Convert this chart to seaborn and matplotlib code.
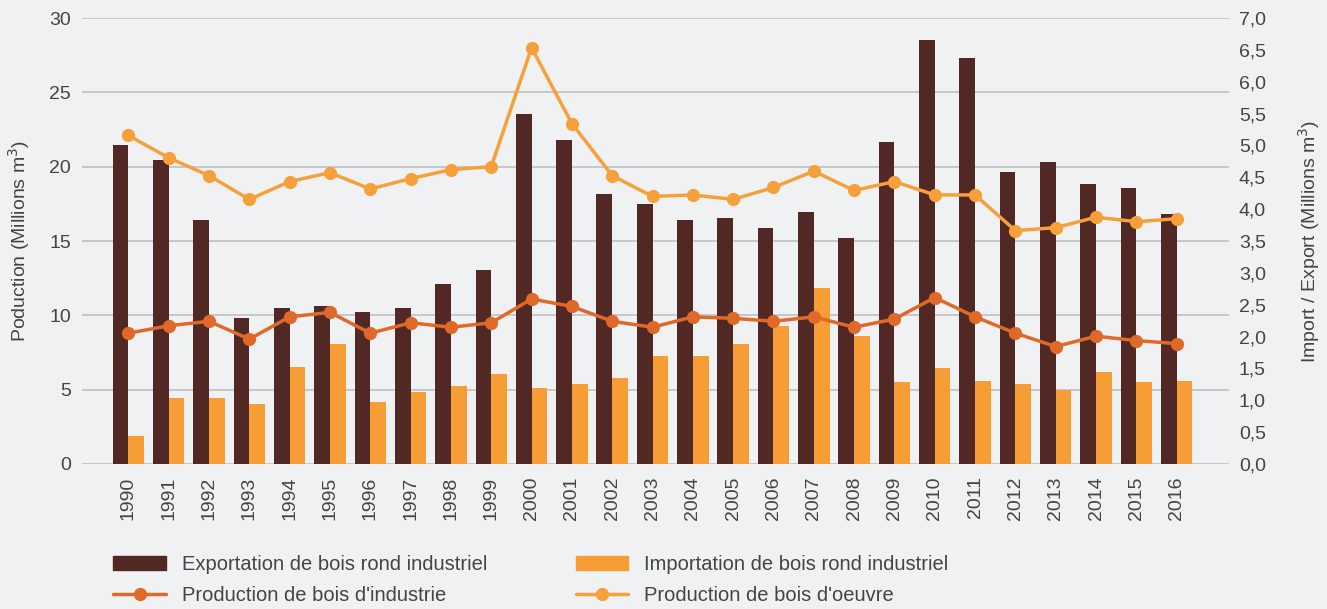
import numpy as np
import pandas as pd
import matplotlib.pyplot as plt
import seaborn as sns
from matplotlib.patches import Patch
from matplotlib.lines import Line2D

# -------------------------------
# Données
# -------------------------------
annees = [str(a) for a in range(1990, 2017)]

# Import / Export (Millions m3) - axe de droite
exportation = [5.01, 4.77, 3.83, 2.29, 2.45, 2.48, 2.39, 2.45, 2.83, 3.04,
               5.49, 5.08, 4.24, 4.08, 3.83, 3.86, 3.70, 3.95, 3.55, 5.05,
               6.65, 6.37, 4.58, 4.74, 4.39, 4.33, 3.92]
importation = [0.44, 1.03, 1.03, 0.94, 1.53, 1.88, 0.97, 1.13, 1.22, 1.41,
               1.19, 1.25, 1.35, 1.69, 1.69, 1.88, 2.16, 2.76, 2.01, 1.29,
               1.50, 1.31, 1.25, 1.16, 1.44, 1.29, 1.31]

# Production (Millions m3) - axe de gauche
bois_oeuvre = [22.1, 20.6, 19.4, 17.8, 19.0, 19.6, 18.5, 19.2, 19.8, 20.0,
               28.0, 22.9, 19.4, 18.0, 18.1, 17.8, 18.6, 19.7, 18.4, 19.0,
               18.1, 18.1, 15.7, 15.9, 16.6, 16.3, 16.5]
bois_industrie = [8.8, 9.3, 9.6, 8.4, 9.9, 10.2, 8.8, 9.5, 9.2, 9.5,
                  11.1, 10.6, 9.6, 9.2, 9.9, 9.8, 9.6, 9.9, 9.2, 9.75,
                  11.2, 9.9, 8.8, 7.9, 8.6, 8.3, 8.1]

lab_exp = "Exportation de bois rond industriel"
lab_imp = "Importation de bois rond industriel"
lab_ind = "Production de bois d'industrie"
lab_oeu = "Production de bois d'oeuvre"

c_exp = "#512824"
c_imp = "#F69D35"
c_ind = "#E0692A"
c_oeu = "#F5A03A"
fond = "#F0F1F3"
gris = "#444444"

df_barres = pd.DataFrame({
    'annee': annees * 2,
    'valeur': exportation + importation,
    'serie': [lab_exp] * len(annees) + [lab_imp] * len(annees),
})

# -------------------------------
# Style
# -------------------------------
sns.set_style("white", {"axes.facecolor": fond, "figure.facecolor": fond})
plt.rcParams['font.family'] = ['Liberation Sans', 'DejaVu Sans']
plt.rcParams['font.size'] = 14

fig = plt.figure(figsize=(13.27, 6.09), dpi=100)
ax = fig.add_axes([0.0618, 0.2381, 0.8644, 0.7323])

# Barres (axe import / export)
sns.barplot(data=df_barres, x='annee', y='valeur', hue='serie',
            palette=[c_exp, c_imp], width=0.78, saturation=1,
            linewidth=0, legend=False, ax=ax)

# Lignes (axe production)
ax2 = ax.twinx()
x = np.arange(len(annees))
sns.lineplot(x=x, y=bois_industrie, color=c_ind, linewidth=2.5, marker='o',
             markersize=9.5, markeredgewidth=0, ax=ax2)
sns.lineplot(x=x, y=bois_oeuvre, color=c_oeu, linewidth=2.5, marker='o',
             markersize=9.5, markeredgewidth=0, ax=ax2)

# axe des barres -> à droite
ax.set_ylim(0, 7)
ax.set_xlim(-1.15, 27.3)
ticks_d = np.arange(0, 7.01, 0.5)
ax.set_yticks(ticks_d)
ax.set_yticklabels([f"{v:.1f}".replace('.', ',') for v in ticks_d])
ax.yaxis.tick_right()
ax.yaxis.set_label_position('right')
ax.set_ylabel("Import / Export (Millions m$^3$)", color=gris, labelpad=22)
ax.set_xlabel("")
ax.yaxis.remove_overlapping_locs = False
ax.set_yticks(np.linspace(0, 7, 7), minor=True)
ax.grid(False)
ax.grid(which='minor', axis='y', color='#C6C7C9', linewidth=1.4)
ax.set_axisbelow(True)
ax.tick_params(axis='y', which='both', length=0, pad=7, colors=gris)
ax.tick_params(axis='x', length=0, pad=9, colors=gris, rotation=90)
for s in ax.spines.values():
    s.set_visible(False)

# axe production -> à gauche
ax2.set_ylim(0, 30)
ax2.set_yticks(range(0, 31, 5))
ax2.yaxis.tick_left()
ax2.yaxis.set_label_position('left')
ax2.set_ylabel("Poduction (Millions m$^3$)", color=gris, labelpad=12)
ax2.tick_params(axis='y', length=0, pad=8, colors=gris)
ax2.grid(False)
for s in ax2.spines.values():
    s.set_visible(False)

# -------------------------------
# Légende
# -------------------------------
handles = [
    Patch(color=c_exp, label=lab_exp),
    Line2D([], [], color=c_ind, linewidth=2.5, marker='o', markersize=8.5, label=lab_ind),
    Patch(color=c_imp, label=lab_imp),
    Line2D([], [], color=c_oeu, linewidth=2.5, marker='o', markersize=8.5, label=lab_oeu),
]
fig.legend(handles=handles, loc='center left', bbox_to_anchor=(0.0855, 0.0474),
           ncol=2, frameon=False, fontsize=14.5, handlelength=2.6, handleheight=0.7,
           handletextpad=0.8, columnspacing=4.4, labelspacing=0.6,
           borderpad=0, borderaxespad=0, labelcolor=gris)

fig.savefig("out.png", dpi=100, facecolor=fond)
